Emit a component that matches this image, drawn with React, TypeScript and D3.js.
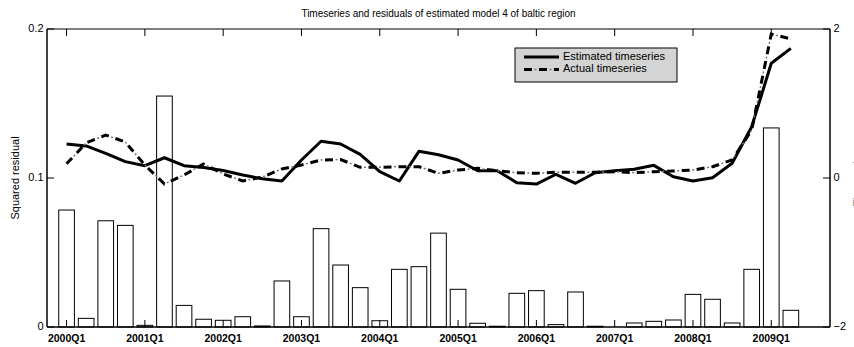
import React from "react";
import * as d3 from "d3";

const TITLE = "Timeseries and residuals of estimated model 4 of baltic region";
const LEFT_LABEL = "Squared residual";
const RIGHT_LABEL = "Time series";
const SERIES_NAMES = ["Estimated timeseries", "Actual timeseries"];

// quarter index 1 = 2000Q1
const xTickIndex = [1, 5, 9, 13, 17, 21, 25, 29, 33, 37];
const xTickLabels = ["2000Q1", "2001Q1", "2002Q1", "2003Q1", "2004Q1", "2005Q1", "2006Q1", "2007Q1", "2008Q1", "2009Q1"];
const leftTicks = [0, 0.1, 0.2];
const leftTickLabels = ["0", "0.1", "0.2"];
const rightTicks = [-2, 0, 2];
const rightTickLabels = ["\u22122", "0", "2"];

const squaredResidual = [
  0.0785, 0.0058, 0.0713, 0.0682, 0.0011, 0.155, 0.0145, 0.0052, 0.0045, 0.0069,
  0.0007, 0.0309, 0.0069, 0.066, 0.0416, 0.0264, 0.0042, 0.0387, 0.0405, 0.063,
  0.0253, 0.0025, 0.0005, 0.0226, 0.0244, 0.0016, 0.0235, 0.0005, 0.0, 0.0027,
  0.0038, 0.0047, 0.0219, 0.0186, 0.0027, 0.0387, 0.1336, 0.0112,
];

const estimated = [
  0.456, 0.43, 0.33, 0.22, 0.165, 0.272, 0.165, 0.14, 0.1, 0.04,
  -0.01, -0.04, 0.242, 0.493, 0.456, 0.318, 0.085, -0.04, 0.358, 0.313,
  0.242, 0.098, 0.098, -0.063, -0.081, 0.05, -0.071, 0.071, 0.098, 0.117,
  0.17, 0.017, -0.04, 0.004, 0.197, 0.689, 1.54, 1.74,
];

const actual = [
  0.19, 0.47, 0.577, 0.483, 0.174, -0.08, 0.04, 0.188, 0.054, -0.04,
  0.013, 0.121, 0.174, 0.242, 0.248, 0.144, 0.144, 0.152, 0.152, 0.063,
  0.107, 0.13, 0.098, 0.071, 0.063, 0.077, 0.077, 0.077, 0.085, 0.071,
  0.085, 0.094, 0.107, 0.152, 0.242, 0.644, 1.933, 1.866,
];

const W = 854;
const H = 347;
const L = 47;
const R = 830;
const T = 29;
const B = 327;
const FONT = "'Liberation Sans', Arial, Helvetica, sans-serif";

function DashDot({ d }: { d: string }) {
  return (
    <g>
      <path d={d} fill="none" stroke="#000" strokeWidth={3} strokeDasharray="8,7" />
      <path d={d} fill="none" stroke="#777" strokeWidth={1.5} strokeDasharray="2,13" strokeDashoffset={4.5} />
    </g>
  );
}

export default function App() {
  const x = d3.scaleLinear().domain([0, 40]).range([L, R]);
  const yL = d3.scaleLinear().domain([0, 0.2]).range([B, T]);
  const yR = d3.scaleLinear().domain([-2, 2]).range([B, T]);
  const step = x(1) - x(0);
  const bw = step * 0.8;

  const line = d3
    .line<number>()
    .x((_, i) => x(i + 1))
    .y((d) => yR(d));

  return (
    <div style={{ position: "absolute", left: 0, top: 0 }}>
      <svg width={W} height={H} style={{ display: "block", background: "#fff" }} fontFamily={FONT}>
        <rect x={0} y={0} width={W} height={H} fill="#fff" />
        {/* bars */}
        {squaredResidual.map((v, i) => (
          <rect
            key={"b" + i}
            x={x(i + 1) - bw / 2}
            y={yL(v)}
            width={bw}
            height={Math.max(0, yL(0) - yL(v))}
            fill="#fff"
            stroke="#000"
            strokeWidth={1}
          />
        ))}
        {/* x ticks top & bottom */}
        {xTickIndex.map((t, i) => (
          <g key={"xt" + i}>
            <line x1={x(t)} x2={x(t)} y1={B} y2={B - 7} stroke="#000" strokeWidth={1} />
            <line x1={x(t)} x2={x(t)} y1={T} y2={T + 7} stroke="#000" strokeWidth={1} />
            <text x={x(t)} y={342} fontSize={10.5} fontWeight="bold" textAnchor="middle" fill="#000">
              {xTickLabels[i]}
            </text>
          </g>
        ))}
        {/* lines */}
        <path d={line(estimated) || ""} fill="none" stroke="#000" strokeWidth={3} strokeLinejoin="round" />
        <DashDot d={line(actual) || ""} />
        {/* axes frame */}
        <line x1={L} x2={R} y1={T} y2={T} stroke="#000" strokeWidth={1} />
        <line x1={L} x2={R} y1={B} y2={B} stroke="#000" strokeWidth={1.5} />
        <line x1={L} x2={L} y1={T} y2={B} stroke="#000" strokeWidth={1.5} />
        <line x1={R} x2={R} y1={T} y2={B} stroke="#000" strokeWidth={1.5} />
        {/* left ticks */}
        {leftTicks.map((t, i) => (
          <g key={"lt" + i}>
            <line x1={L} x2={L + 7} y1={yL(t)} y2={yL(t)} stroke="#000" strokeWidth={1} />
            <text x={43.5} y={yL(t)} fontSize={11} textAnchor="end" dominantBaseline="middle" fill="#000">
              {leftTickLabels[i]}
            </text>
          </g>
        ))}
        {/* right ticks */}
        {rightTicks.map((t, i) => (
          <g key={"rt" + i}>
            <line x1={R} x2={R - 7} y1={yR(t)} y2={yR(t)} stroke="#000" strokeWidth={1} />
            <text x={833.5} y={yR(t)} fontSize={11} textAnchor="start" dominantBaseline="middle" fill="#000">
              {rightTickLabels[i]}
            </text>
          </g>
        ))}
        {/* title */}
        <text x={(L + R) / 2} y={17} fontSize={10} textAnchor="middle" fill="#000">
          {TITLE}
        </text>
        {/* left label */}
        <text
          transform={`translate(19,${(T + B) / 2}) rotate(-90)`}
          fontSize={11}
          textAnchor="middle"
          fill="#000"
        >
          {LEFT_LABEL}
        </text>
        {/* right label (mostly clipped, as in the reference) */}
        <text
          transform={`translate(861,${(T + B) / 2}) rotate(-90)`}
          fontSize={11}
          textAnchor="middle"
          fill="#999"
        >
          {RIGHT_LABEL}
        </text>
        {/* legend */}
        <rect x={515} y={48} width={162} height={34} fill="#d4d4d4" stroke="#000" strokeWidth={1} />
        <line x1={524} x2={559} y1={57} y2={57} stroke="#000" strokeWidth={3} />
        <DashDot d={`M${524},${69.5}H${559}`} />
        <text x={563} y={57} fontSize={11} dominantBaseline="middle" fill="#000">
          {SERIES_NAMES[0]}
        </text>
        <text x={563} y={69.5} fontSize={11} dominantBaseline="middle" fill="#000">
          {SERIES_NAMES[1]}
        </text>
      </svg>
    </div>
  );
}
